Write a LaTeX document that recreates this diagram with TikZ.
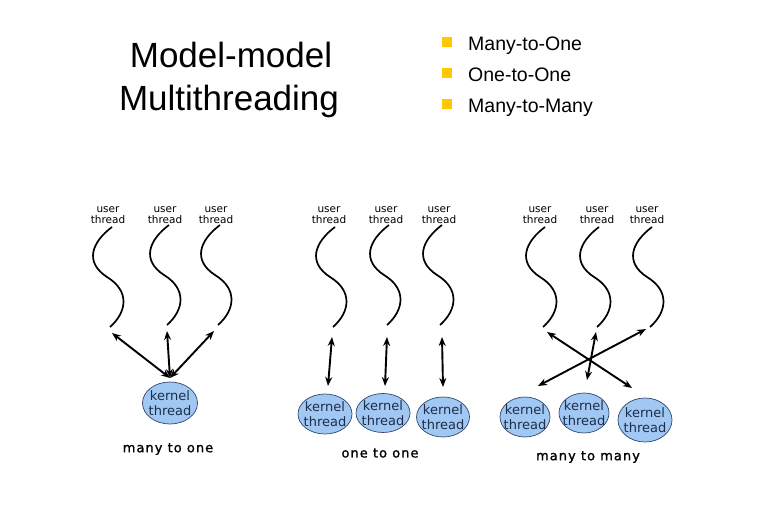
\documentclass[tikz,border=0pt]{standalone}
\usepackage{fontspec}
\setmainfont{Liberation Sans}
\newfontfamily\dv{DejaVu Sans}
\newfontfamily\dvcap[LetterSpace=8,FakeBold=1.2]{DejaVu Sans}
\usetikzlibrary{arrows.meta,shapes.geometric}
\definecolor{kfill}{RGB}{160,200,242}
\definecolor{kline}{RGB}{50,70,110}
\definecolor{ktext}{RGB}{30,45,75}
\definecolor{bul}{RGB}{255,200,0}
\tikzset{
 wave/.style={line width=1.7pt},
 dbl/.style={line width=1.9pt,{Stealth[length=9pt,width=7pt]}-{Stealth[length=9pt,width=7pt]}},
 kern/.style={ellipse,draw=kline,line width=0.7pt,fill=kfill,minimum width=54pt,minimum height=41pt,inner sep=-5pt,font=\dv\fontsize{13}{15}\selectfont,text=ktext,align=center},
 utext/.style={font=\dv\fontsize{10.5}{10.5}\selectfont,align=center,inner sep=0pt},
 captxt/.style={font=\dvcap\fontsize{13}{15}\selectfont,inner sep=0pt},
 bulletbox/.style={fill=bul,minimum size=10pt,inner sep=0pt},
 btext/.style={font=\fontsize{19.5}{22}\selectfont,anchor=base west,inner sep=0pt},
 titletxt/.style={font=\fontsize{35}{43}\selectfont,anchor=base,inner sep=0pt},
}
% #1 name of end coordinate, #2 x end, #3 y end
\newcommand\usrthread[3]{%
 \begin{scope}[shift={(#2,#3)}]
  \draw[wave] (2,-100) .. controls (-18,-85) and (-26,-65) .. (-3,-50)
              .. controls (20,-36) and (17,-15) .. (0,0);
  \coordinate (#1) at (0,0);
 \end{scope}}
\begin{document}
\begin{tikzpicture}[x=1pt,y=-1pt]
\useasboundingbox (0,0) rectangle (765,510);
% title
\node[titletxt] (t1) at (231,68) {Model-model};
\node[titletxt] (t2) at (229,111) {Multithreading};
% bullets
\node[bulletbox] (b1) at (447,42) {};
\node[bulletbox] (b2) at (447,73) {};
\node[bulletbox] (b3) at (447,104) {};
\node[btext] (bt1) at (468,51) {Many-to-One};
\node[btext] (bt2) at (468,82) {One-to-One};
\node[btext] (bt3) at (468,113) {Many-to-Many};

% ---------- many to one
\node[utext] (l11) at (108,215) {user\\thread};
\node[utext] (l12) at (165,215) {user\\thread};
\node[utext] (l13) at (216,215) {user\\thread};
\usrthread{s11}{110}{327}
\usrthread{s12}{167}{325}
\usrthread{s13}{218}{325}
\node[kern,minimum width=55pt,minimum height=42pt] (k1) at (170,403) {kernel\\thread};
\coordinate (m1) at (170,378);
\coordinate (a11) at (112,333);
\coordinate (a12) at (167,331);
\coordinate (a13) at (214,331);
\draw[dbl] (a11) -- (m1);
\draw[dbl] (a12) -- (m1);
\draw[dbl] (a13) -- (m1);
\node[captxt] (c1) at (168,449) {many to one};

% ---------- one to one
\node[utext] (l21) at (329,215) {user\\thread};
\node[utext] (l22) at (386,215) {user\\thread};
\node[utext] (l23) at (439,215) {user\\thread};
\usrthread{s21}{333}{327}
\usrthread{s22}{387}{325}
\usrthread{s23}{440}{325}
\node[kern,minimum height=40pt] (k21) at (325,414) {kernel\\thread};
\node[kern,minimum height=39pt] (k22) at (383,413) {kernel\\thread};
\node[kern,minimum width=53pt,minimum height=40pt] (k23) at (443,417) {kernel\\thread};
\coordinate (a21) at (332,337);
\coordinate (a22) at (387,337);
\coordinate (a23) at (442,337);
\coordinate (d21) at (328,386);
\coordinate (d22) at (385,386);
\coordinate (d23) at (443,387);
\draw[dbl] (a21) -- (d21);
\draw[dbl] (a22) -- (d22);
\draw[dbl] (a23) -- (d23);
\node[captxt] (c2) at (380,453) {one to one};

% ---------- many to many
\node[utext] (l31) at (540,215) {user\\thread};
\node[utext] (l32) at (597,215) {user\\thread};
\node[utext] (l33) at (647,215) {user\\thread};
\usrthread{s31}{543}{327}
\usrthread{s32}{597}{327}
\usrthread{s33}{650}{327}
\node[kern,minimum width=50pt,minimum height=40pt] (k31) at (525,417) {kernel\\thread};
\node[kern,minimum width=50pt,minimum height=40pt] (k32) at (584,413) {kernel\\thread};
\node[kern,minimum width=54pt,minimum height=44pt] (k33) at (645,420) {kernel\\thread};
\coordinate (a31) at (547,332);
\coordinate (a32) at (596,332);
\coordinate (a33) at (646,329);
\coordinate (d31) at (632,388);
\coordinate (d32) at (587,380);
\coordinate (d33) at (538,386);
\draw[dbl] (a31) -- (d31);
\draw[dbl] (a32) -- (d32);
\draw[dbl] (a33) -- (d33);
\node[captxt] (c3) at (588,457) {many to many};
\end{tikzpicture}
\end{document}
